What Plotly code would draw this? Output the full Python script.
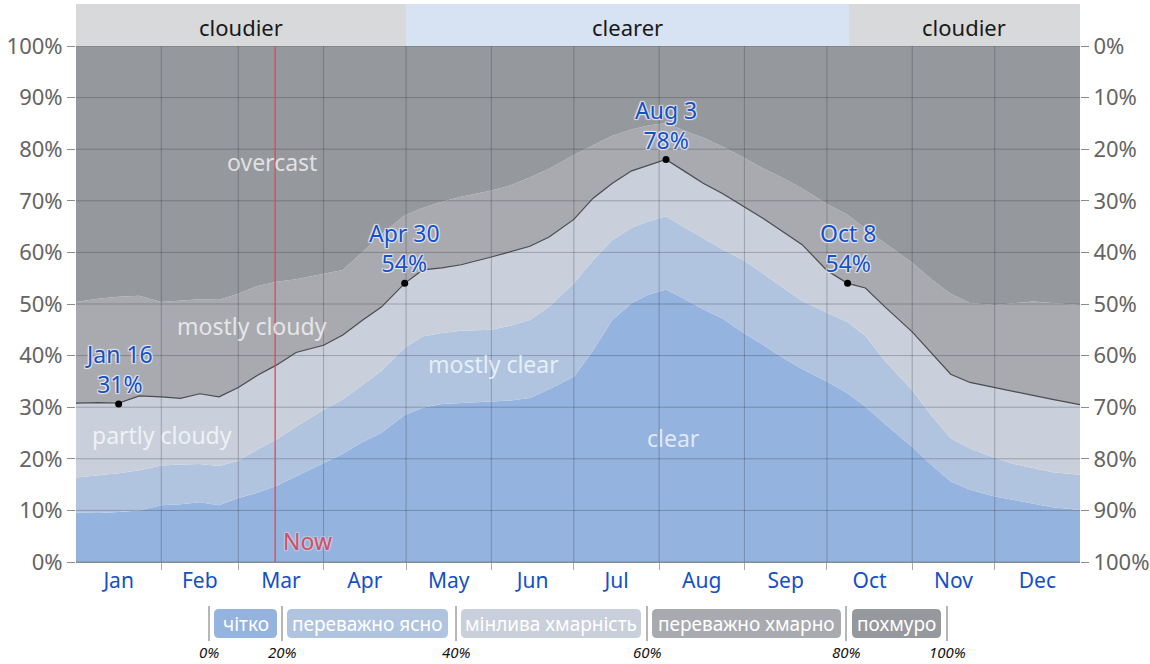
import plotly.graph_objects as go

# ---------------- data ----------------
DAYS = [0, 8, 15.5, 23, 31, 38, 45, 52, 59, 66,
        73, 80, 90, 97, 104, 111, 119.5, 126, 133, 140,
        151, 158, 165, 172, 181, 188, 195, 202, 208, 214.5,
        221, 228, 235, 243, 250, 257, 264, 273, 280.5, 287,
        294, 304, 311, 318, 325, 334, 341, 348, 355, 365]

CLEAR_TOP = [9.6, 9.5, 9.7, 10.0, 11.0, 11.2, 11.6, 11.0, 12.4, 13.4,
             14.8, 16.6, 19.2, 21.0, 23.2, 25.0, 28.5, 29.9, 30.6, 30.8,
             31.1, 31.3, 31.8, 33.5, 35.9, 41.0, 46.9, 50.2, 51.8, 52.8,
             51.0, 49.0, 47.2, 44.3, 42.0, 39.6, 37.4, 35.0, 32.7, 30.1,
             26.8, 22.3, 18.8, 15.6, 14.0, 12.7, 12.0, 11.3, 10.6, 10.1]

MOSTLY_CLEAR_TOP = [16.4, 16.8, 17.2, 17.8, 18.7, 18.9, 19.0, 18.6, 19.6, 21.8,
                    23.8, 26.2, 29.5, 31.5, 34.2, 37.0, 41.5, 43.7, 44.4, 44.8,
                    45.0, 45.8, 46.9, 49.5, 54.0, 58.5, 62.4, 64.8, 66.0, 67.0,
                    64.9, 62.8, 60.6, 58.4, 55.8, 53.3, 50.6, 48.3, 46.5, 43.8,
                    39.0, 33.3, 28.4, 24.0, 22.0, 20.2, 19.0, 18.2, 17.4, 16.9]

PARTLY_CLOUDY_TOP = [30.8, 30.9, 30.8, 32.2, 32.0, 31.7, 32.6, 32.0, 33.8, 36.2,
                     38.2, 40.6, 42.0, 44.0, 46.8, 49.4, 54.0, 56.6, 57.0, 57.6,
                     59.1, 60.2, 61.2, 63.0, 66.4, 70.5, 73.4, 75.8, 76.8, 78.0,
                     75.8, 73.4, 71.4, 68.8, 66.5, 64.0, 61.5, 56.5, 54.0, 53.1,
                     49.5, 44.6, 40.6, 36.4, 34.8, 33.8, 33.0, 32.3, 31.5, 30.5]

MOSTLY_CLOUDY_TOP = [50.4, 51.0, 51.4, 51.6, 50.4, 50.6, 50.9, 50.8, 52.0, 53.5,
                     54.3, 54.8, 55.8, 56.6, 60.0, 63.5, 67.2, 68.6, 69.8, 70.8,
                     72.0, 73.0, 74.5, 76.2, 78.9, 80.8, 82.6, 83.8, 84.6, 85.1,
                     83.6, 82.2, 80.5, 78.3, 76.2, 74.4, 72.4, 69.4, 67.3, 64.6,
                     61.8, 58.0, 54.8, 52.0, 50.2, 49.8, 50.2, 50.5, 50.2, 49.8]

EXTREME_DAYS = [15.5, 119.5, 214.5, 280.5]
EXTREME_VALUES = [30.6, 54.0, 78.0, 54.0]
EXTREME_LABELS = ["Jan 16<br>31%", "Apr 30<br>54%", "Aug 3<br>78%", "Oct 8<br>54%"]

MONTHS = ["Jan", "Feb", "Mar", "Apr", "May", "Jun", "Jul", "Aug", "Sep", "Oct", "Nov", "Dec"]
MONTH_STARTS = [0, 31, 59, 90, 120, 151, 181, 212, 243, 273, 304, 334, 365]
Y_TICKS = [0, 10, 20, 30, 40, 50, 60, 70, 80, 90, 100]

NOW_DAY = 72.4
SEASONS = [("cloudier", 0, 120), ("clearer", 120, 281), ("cloudier", 281, 365)]

CATEGORY_NAMES = ["clear", "mostly clear", "partly cloudy", "mostly cloudy", "overcast"]
LEGEND_LABELS = ["чітко", "переважно ясно", "мінлива хмарність", "переважно хмарно", "похмуро"]
LEGEND_PCTS = ["0%", "20%", "40%", "60%", "80%", "100%"]

# ---------------- styles ----------------
COLORS = ["rgb(148,179,223)", "rgb(176,196,224)", "rgb(201,208,219)",
          "rgb(168,170,176)", "rgb(149,152,157)"]
FONT = "Noto Sans"
W, H = 1150, 664
ML, MR, MT, MB = 76, 70, 46, 102
PW, PH = W - ML - MR, H - MT - MB


def px(xp):
    return (xp - ML) / PW


def py(yp):
    return (H - MB - yp) / PH


fig = go.Figure()

tops = [CLEAR_TOP, MOSTLY_CLEAR_TOP, PARTLY_CLOUDY_TOP, MOSTLY_CLOUDY_TOP, [100] * len(DAYS)]
for i, (name, top) in enumerate(zip(CATEGORY_NAMES, tops)):
    fig.add_trace(go.Scatter(
        x=DAYS, y=top, name=name, mode="lines",
        line=dict(width=0, color=COLORS[i]),
        fill="tozeroy" if i == 0 else "tonexty",
        fillcolor=COLORS[i], hoverinfo="skip", showlegend=False))

fig.add_trace(go.Scatter(x=DAYS, y=PARTLY_CLOUDY_TOP, mode="lines",
                         line=dict(color="rgb(75,75,78)", width=1.2),
                         showlegend=False, hoverinfo="skip"))
fig.add_trace(go.Scatter(x=EXTREME_DAYS, y=EXTREME_VALUES, mode="markers",
                         marker=dict(color="black", size=7),
                         showlegend=False, hoverinfo="skip"))
# dummy trace for right axis
fig.add_trace(go.Scatter(x=[DAYS[0]], y=[0], yaxis="y2", mode="markers",
                         marker=dict(opacity=0), showlegend=False, hoverinfo="skip"))

shapes = []
grid_color = "rgba(40,40,45,0.28)"
for m in MONTH_STARTS[1:-1]:
    shapes.append(dict(type="line", xref="x", yref="y", x0=m, x1=m, y0=0, y1=100,
                       line=dict(color=grid_color, width=1), layer="above"))
for v in Y_TICKS:
    shapes.append(dict(type="line", xref="x", yref="y", x0=0, x1=365, y0=v, y1=v,
                       line=dict(color=grid_color, width=1), layer="above"))
shapes.append(dict(type="line", xref="x", yref="y", x0=NOW_DAY, x1=NOW_DAY, y0=0, y1=100,
                   line=dict(color="rgb(222,72,82)", width=1.3), layer="above"))

annotations = []
# season band
band_y0, band_y1 = py(MT), py(4)
for label, d0, d1 in SEASONS:
    col = "rgb(215,226,242)" if label == "clearer" else "rgb(216,217,219)"
    shapes.append(dict(type="rect", xref="x", yref="paper", x0=d0, x1=d1,
                       y0=band_y0, y1=band_y1, fillcolor=col, line=dict(width=0), layer="above"))
    annotations.append(dict(x=(d0 + d1) / 2, xref="x", y=(band_y0 + band_y1) / 2, yref="paper",
                            text=label, showarrow=False, xanchor="center", yanchor="middle",
                            yshift=-2,
                            font=dict(family=FONT, size=22, color="rgb(25,25,25)")))

# area labels
area_labels = [("overcast", 272, 162), ("mostly cloudy", 252, 326),
               ("partly cloudy", 162, 435), ("mostly clear", 493, 364), ("clear", 673, 438)]
for text, xx, yy in area_labels:
    annotations.append(dict(x=px(xx), xref="paper", y=py(yy), yref="paper", text=text,
                            showarrow=False, xanchor="center", yanchor="middle",
                            font=dict(family=FONT, size=23, color="rgba(255,255,255,0.72)")))

halo = ("1px 1px 1px rgba(235,235,240,0.9), -1px -1px 1px rgba(235,235,240,0.9), "
        "1px -1px 1px rgba(235,235,240,0.9), -1px 1px 1px rgba(235,235,240,0.9)")
for d, v, t in zip(EXTREME_DAYS, EXTREME_VALUES, EXTREME_LABELS):
    annotations.append(dict(x=d, y=v, xref="x", yref="y", text=t, showarrow=False,
                            xanchor="center", yanchor="bottom", yshift=2,
                            font=dict(family=FONT, size=23, color="rgb(20,80,200)", shadow=halo)))

annotations.append(dict(x=NOW_DAY, y=py(541), xref="x", yref="paper", text="Now",
                        showarrow=False, xanchor="left", yanchor="middle", xshift=6,
                        font=dict(family=FONT, size=23, color="rgb(214,78,100)",
                                  shadow=halo.replace("235,235,240", "190,205,230"))))

# legend (bottom)
legend_boxes = [(214, 277), (287, 448), (461, 641), (652, 841), (852, 941)]
sep_x = [209, 282, 456, 647, 846, 947]
box_top, box_bot = 609, 638
r = 5
for (x0, x1), lab, col in zip(legend_boxes, LEGEND_LABELS, COLORS):
    X0, X1, Y0, Y1 = x0, x1, box_top, box_bot

    def P(a, b):
        return f"{px(a):.5f},{py(b):.5f}"
    path = (f"M {P(X0 + r, Y0)} L {P(X1 - r, Y0)} Q {P(X1, Y0)} {P(X1, Y0 + r)} "
            f"L {P(X1, Y1 - r)} Q {P(X1, Y1)} {P(X1 - r, Y1)} L {P(X0 + r, Y1)} "
            f"Q {P(X0, Y1)} {P(X0, Y1 - r)} L {P(X0, Y0 + r)} Q {P(X0, Y0)} {P(X0 + r, Y0)} Z")
    shapes.append(dict(type="path", xref="paper", yref="paper", path=path,
                       fillcolor=col, line=dict(width=0)))
    annotations.append(dict(x=px((x0 + x1) / 2), y=py((box_top + box_bot) / 2),
                            xref="paper", yref="paper", text=lab, showarrow=False,
                            xanchor="center", yanchor="middle",
                            font=dict(family=FONT, size=19, color="white")))
for sx, pct in zip(sep_x, LEGEND_PCTS):
    shapes.append(dict(type="line", xref="paper", yref="paper", x0=px(sx), x1=px(sx),
                       y0=py(606), y1=py(641), line=dict(color="rgb(110,110,110)", width=1)))
    annotations.append(dict(x=px(sx), y=py(652), xref="paper", yref="paper", text=f"<i>{pct}</i>",
                            showarrow=False, xanchor="center", yanchor="middle", borderpad=0,
                            font=dict(family=FONT, size=15, color="rgb(20,20,20)")))

month_mids = [(MONTH_STARTS[i] + MONTH_STARTS[i + 1]) / 2 for i in range(12)]
tick_font = dict(family=FONT, size=22, color="rgb(100,100,100)")

fig.update_layout(
    width=W, height=H,
    margin=dict(l=ML, r=MR, t=MT, b=MB, pad=0, autoexpand=False),
    paper_bgcolor="white", plot_bgcolor="white",
    showlegend=False,
    xaxis=dict(range=[0, 365], tickmode="array", tickvals=month_mids, ticktext=MONTHS,
               ticks="", showgrid=False, zeroline=False,
               showline=True, linecolor="rgb(140,140,140)", linewidth=1,
               tickfont=dict(family=FONT, size=21, color="rgb(20,80,200)"),
               minor=dict(tickmode="array", tickvals=MONTH_STARTS[1:-1], ticks="outside",
                          ticklen=7, tickcolor="rgb(170,170,170)", showgrid=False),
               fixedrange=True),
    yaxis=dict(range=[0, 100], tickmode="array", tickvals=Y_TICKS,
               ticktext=[f"{v}%" for v in Y_TICKS], ticks="outside", ticklen=8,
               tickcolor="rgb(140,140,140)", showgrid=False, zeroline=False,
               tickfont=tick_font, fixedrange=True),
    yaxis2=dict(range=[100, 0], overlaying="y", side="right", tickmode="array",
                tickvals=Y_TICKS, ticktext=[f"{v}%" for v in Y_TICKS], ticks="outside",
                ticklen=8, tickcolor="rgb(140,140,140)", showgrid=False, zeroline=False,
                tickfont=tick_font, fixedrange=True),
    shapes=shapes, annotations=annotations,
)

fig.write_html("out.html", config={"displayModeBar": False},
               post_script="document.body.style.margin='0';document.body.style.overflow='hidden';")
